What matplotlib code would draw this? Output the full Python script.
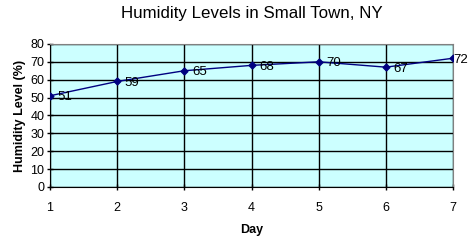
import matplotlib
matplotlib.use('Agg')
import matplotlib.pyplot as plt

days = [1, 2, 3, 4, 5, 6, 7]
humidity = [51, 59, 65, 68, 70, 67, 72]
y_ticks = [0, 10, 20, 30, 40, 50, 60, 70, 80]

plt.rcParams['font.family'] = ['Liberation Sans', 'DejaVu Sans']

fig = plt.figure(figsize=(4.68, 2.40), dpi=100)
ax = fig.add_axes([0.1068, 0.221, 0.8612, 0.596])
ax.set_facecolor('#CCFFFF')

ax.plot(days, humidity, color='#000080', linewidth=1, marker='D', markersize=3.5, zorder=3)
for d, h in zip(days, humidity):
    # last label squeezed against the right edge, like the original
    dx = 0.3 if d == days[-1] else 5.5
    ax.annotate(str(h), (d, h), xytext=(dx, -1), textcoords='offset points',
                ha='left', va='center', fontsize=9.5, color='black', zorder=4,
                annotation_clip=False)

ax.set_xlim(1, 7)
ax.set_ylim(0, 80)
ax.set_xticks(days)
ax.set_yticks(y_ticks)
ax.grid(True, color='black', linewidth=1)
ax.set_axisbelow(True)

for side in ['top', 'right']:
    ax.spines[side].set_color('#808080')
for side in ['left', 'bottom']:
    ax.spines[side].set_color('black')

ax.tick_params(axis='both', labelsize=9, length=4, direction='inout', width=1)
ax.tick_params(axis='x', pad=9)
ax.tick_params(axis='y', pad=2)

ax.set_xlabel('Day', fontsize=9, fontweight='bold', labelpad=7)
ax.set_ylabel('Humidity Level (%)', fontsize=9, fontweight='bold', labelpad=3)
ax.set_title('Humidity Levels in Small Town, NY', fontsize=12.2, pad=19)

fig.savefig('out.png', dpi=100)
